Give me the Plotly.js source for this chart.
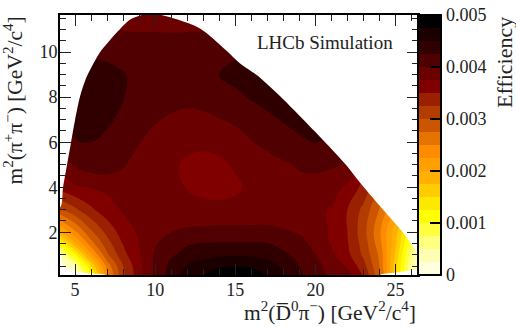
<!DOCTYPE html>
<html>
<head>
<meta charset="utf-8">
<script src="https://cdn.plot.ly/plotly-3.0.1.min.js"></script>
<style>
  html, body { margin: 0; padding: 0; background: #fff; }
</style>
</head>
<body>
<div id="chart" style="width:516px;height:327px;"></div>
<script>
// m2(D0 pi-) and m2(pi+ pi-) grid, in GeV2/c4
const gridX = [4, 5, 6, 7, 8, 9, 10, 11, 12, 13, 14, 15, 16, 17, 18, 19, 20, 21, 22, 23, 24, 25, 26, 27];
const gridY = [0, 0.5, 1, 1.5, 2, 3, 4, 5, 6, 7, 8, 9, 10, 11, 12];

// efficiency, in units of 0.001, one row per gridY
const efficiency = [
  [0.00, 0.10, 1.00, 2.40, 3.20, 3.65, 4.05, 4.38, 4.62, 4.78, 4.88, 4.90, 4.88, 4.77, 4.55, 4.28, 4.12, 3.95, 3.85, 3.50, 2.85, 1.60, 0.40, 0.00],
  [0.10, 0.50, 1.50, 2.60, 3.25, 3.68, 4.05, 4.32, 4.52, 4.64, 4.72, 4.74, 4.72, 4.63, 4.45, 4.25, 4.08, 3.90, 3.72, 3.35, 2.75, 1.60, 0.50, 0.00],
  [0.45, 1.20, 2.20, 2.95, 3.42, 3.73, 4.03, 4.22, 4.32, 4.40, 4.46, 4.47, 4.46, 4.40, 4.29, 4.17, 4.00, 3.80, 3.57, 3.20, 2.70, 1.70, 0.60, 0.00],
  [1.10, 1.95, 2.65, 3.15, 3.52, 3.76, 3.98, 4.13, 4.23, 4.26, 4.27, 4.27, 4.27, 4.26, 4.18, 4.08, 3.93, 3.73, 3.52, 3.15, 2.60, 1.80, 0.80, 0.00],
  [1.90, 2.45, 2.95, 3.32, 3.62, 3.79, 3.92, 4.00, 4.05, 4.07, 4.08, 4.08, 4.08, 4.07, 4.03, 3.98, 3.86, 3.72, 3.50, 3.10, 2.55, 1.85, 1.00, 0.40],
  [2.95, 3.20, 3.45, 3.65, 3.78, 3.82, 3.83, 3.83, 3.82, 3.82, 3.82, 3.82, 3.83, 3.85, 3.85, 3.83, 3.80, 3.73, 3.50, 3.18, 2.73, 2.20, 1.50, 0.80],
  [3.60, 3.72, 3.77, 3.80, 3.85, 3.85, 3.83, 3.80, 3.74, 3.68, 3.66, 3.71, 3.80, 3.85, 3.92, 3.95, 3.90, 3.85, 3.70, 3.42, 3.00, 2.50, 2.00, 1.50],
  [3.80, 4.03, 4.13, 4.15, 4.03, 3.88, 3.81, 3.78, 3.72, 3.68, 3.70, 3.78, 3.88, 3.93, 3.97, 4.02, 4.06, 4.03, 3.98, 3.60, 3.20, 2.50, 2.00, 1.50],
  [4.05, 4.24, 4.25, 4.18, 4.10, 4.01, 3.92, 3.87, 3.80, 3.80, 3.83, 3.90, 3.99, 4.05, 4.13, 4.21, 4.26, 4.20, 4.05, 3.70, 3.30, 2.50, 2.00, 1.50],
  [4.15, 4.30, 4.33, 4.30, 4.18, 4.08, 4.02, 3.97, 3.95, 3.97, 3.99, 4.04, 4.13, 4.20, 4.27, 4.33, 4.35, 4.30, 4.10, 3.80, 3.40, 2.50, 2.00, 1.50],
  [4.20, 4.30, 4.38, 4.35, 4.26, 4.18, 4.12, 4.07, 4.05, 4.05, 4.16, 4.20, 4.27, 4.33, 4.38, 4.40, 4.40, 4.30, 4.10, 3.80, 3.40, 2.50, 2.00, 1.50],
  [4.20, 4.30, 4.36, 4.34, 4.27, 4.17, 4.12, 4.10, 4.12, 4.18, 4.26, 4.32, 4.38, 4.42, 4.42, 4.42, 4.40, 4.30, 4.10, 3.80, 3.40, 2.50, 2.00, 1.50],
  [4.20, 4.20, 4.20, 4.18, 4.14, 4.10, 4.08, 4.07, 4.08, 4.12, 4.18, 4.22, 4.30, 4.30, 4.30, 4.30, 4.30, 4.20, 4.10, 3.80, 3.40, 2.50, 2.00, 1.50],
  [3.99, 3.99, 3.99, 3.99, 3.99, 3.99, 3.99, 3.99, 3.99, 3.99, 3.99, 3.99, 3.99, 3.99, 3.99, 3.99, 3.99, 3.99, 3.99, 3.80, 3.40, 2.50, 2.00, 1.50],
  [3.90, 3.90, 3.90, 3.90, 3.90, 3.90, 3.90, 3.90, 3.90, 3.90, 3.90, 3.90, 3.90, 3.90, 3.90, 3.90, 3.90, 3.90, 3.90, 3.80, 3.40, 2.50, 2.00, 1.50]
];

// one colour per 0.00025 band, low to high
const bandColors = [
  "#ffffe0", "#ffffb3", "#ffff80", "#ffff40", "#ffff00",
  "#ffe800", "#ffcc00", "#ffb000", "#ffa000", "#ff8c00",
  "#e67300", "#cc5500", "#b33c00", "#992000", "#800000",
  "#6a0000", "#500000", "#300000", "#1c0000", "#000000"
];

// edge of the allowed phase space, everything beyond it stays white
const upperEdgeX = [3, 4.06, 4.25, 4.5, 4.75, 5, 5.3, 5.7, 6.3, 6.56, 7, 7.6, 8.44, 9.06, 9.8, 10.5, 11.4, 12.8, 14.4, 15.3, 16.4, 18, 20, 21.1, 21.9, 22.8, 24.25, 25.5, 26.25, 26.44, 27, 27, 3];
const upperEdgeY = [3.1, 3.1, 4, 5, 6, 7, 8, 8.86, 9.7, 10, 10.38, 10.87, 11.45, 11.63, 11.72, 11.63, 11.45, 11.05, 10.1, 9.5, 8.95, 7.9, 6.45, 5.62, 5, 4.19, 2.98, 1.96, 1.2, 0.9, 0.9, 13, 13];
const lowerLeftX = [3, 4.06, 4.2, 5, 5.8, 6.9, 6.9, 3];
const lowerLeftY = [1.2, 1.2, 0.62, 0.27, 0.18, 0.1, 0, 0];
const lowerRightX = [27, 26.44, 26.25, 25.2, 24, 24, 27];
const lowerRightY = [0.4, 0.4, 0.35, 0.22, 0.1, 0, 0];

const serif = "Liberation Serif";
const textColor = "#222";

const colorscale = [];
bandColors.forEach((c, i) => {
  colorscale.push([i / bandColors.length, c]);
  colorscale.push([(i + 1) / bandColors.length, c]);
});

const contourTrace = {
  type: "contour",
  x: gridX,
  y: gridY,
  z: efficiency.map(row => row.map(v => v * 0.001)),
  zmin: 0,
  zmax: 0.005,
  colorscale: colorscale,
  contours: { coloring: "fill", start: 0, end: 0.005, size: 0.00025, showlines: false },
  line: { width: 0, smoothing: 1.3 },
  hoverinfo: "skip",
  colorbar: {
    x: 1,
    xanchor: "left",
    xpad: 0,
    y: 0,
    yanchor: "bottom",
    ypad: 0,
    len: 1,
    thickness: 23,
    thicknessmode: "pixels",
    outlinewidth: 2,
    outlinecolor: "#000",
    ticks: "inside",
    ticklen: 12,
    tickwidth: 2,
    tickcolor: "#000",
    tick0: 0,
    dtick: 0.001,
    tickfont: { family: serif, size: 18, color: textColor }
  }
};

const maskTrace = {
  type: "scatter",
  mode: "lines",
  x: [...upperEdgeX, null, ...lowerLeftX, null, ...lowerRightX],
  y: [...upperEdgeY, null, ...lowerLeftY, null, ...lowerRightY],
  fill: "toself",
  fillcolor: "#fff",
  line: { width: 0, shape: "spline", smoothing: 0.8 },
  hoverinfo: "skip",
  showlegend: false
};

const axisBase = {
  ticks: "inside",
  tickcolor: "#222",
  tickwidth: 1,
  ticklen: 11,
  ticklabelstandoff: -3,
  showline: true,
  linecolor: "#000",
  linewidth: 2,
  mirror: "allticks",
  showgrid: false,
  zeroline: false,
  layer: "above traces",
  tickfont: { family: serif, size: 18, color: textColor }
};

const layout = {
  width: 516,
  height: 327,
  margin: { l: 60, r: 98, t: 15, b: 52, pad: 0 },
  font: { family: serif, size: 18, color: textColor },
  paper_bgcolor: "#fff",
  plot_bgcolor: "#fff",
  showlegend: false,
  xaxis: Object.assign({}, axisBase, {
    range: [4.06, 26.4],
    tick0: 0,
    dtick: 5,
    minor: { ticks: "inside", dtick: 1, ticklen: 6, tickwidth: 1, tickcolor: "#222" }
  }),
  yaxis: Object.assign({}, axisBase, {
    range: [0.1, 11.65],
    tick0: 0,
    dtick: 2,
    minor: { ticks: "inside", dtick: 0.5, ticklen: 6, tickwidth: 1, tickcolor: "#222" }
  }),
  annotations: [
    {
      text: "LHCb Simulation",
      xref: "paper", yref: "paper",
      x: 0.544, y: 0.893,
      xanchor: "left", yanchor: "middle",
      showarrow: false,
      font: { family: serif, size: 19, color: textColor }
    },
    {
      text: "m<sup>2</sup>(D\u0305<sup>0</sup>π<sup>−</sup>) [GeV<sup>2</sup>/c<sup>4</sup>]",
      xref: "paper", yref: "paper",
      x: 1, y: 0,
      xanchor: "right", yanchor: "top",
      yshift: -21,
      showarrow: false,
      font: { family: serif, size: 21.5, color: textColor }
    },
    {
      text: "m<sup>2</sup>(π<sup>+</sup>π<sup>−</sup>) [GeV<sup>2</sup>/c<sup>4</sup>]",
      xref: "paper", yref: "paper",
      x: 0, y: 1,
      xanchor: "right", yanchor: "top",
      xshift: -32,
      textangle: -90,
      showarrow: false,
      font: { family: serif, size: 21.5, color: textColor }
    },
    {
      text: "Efficiency",
      xref: "paper", yref: "paper",
      x: 1, y: 1,
      xanchor: "left", yanchor: "top",
      xshift: 72,
      textangle: -90,
      showarrow: false,
      font: { family: serif, size: 22, color: textColor }
    }
  ]
};

Plotly.newPlot("chart", [contourTrace, maskTrace], layout, { displayModeBar: false });
</script>
</body>
</html>
